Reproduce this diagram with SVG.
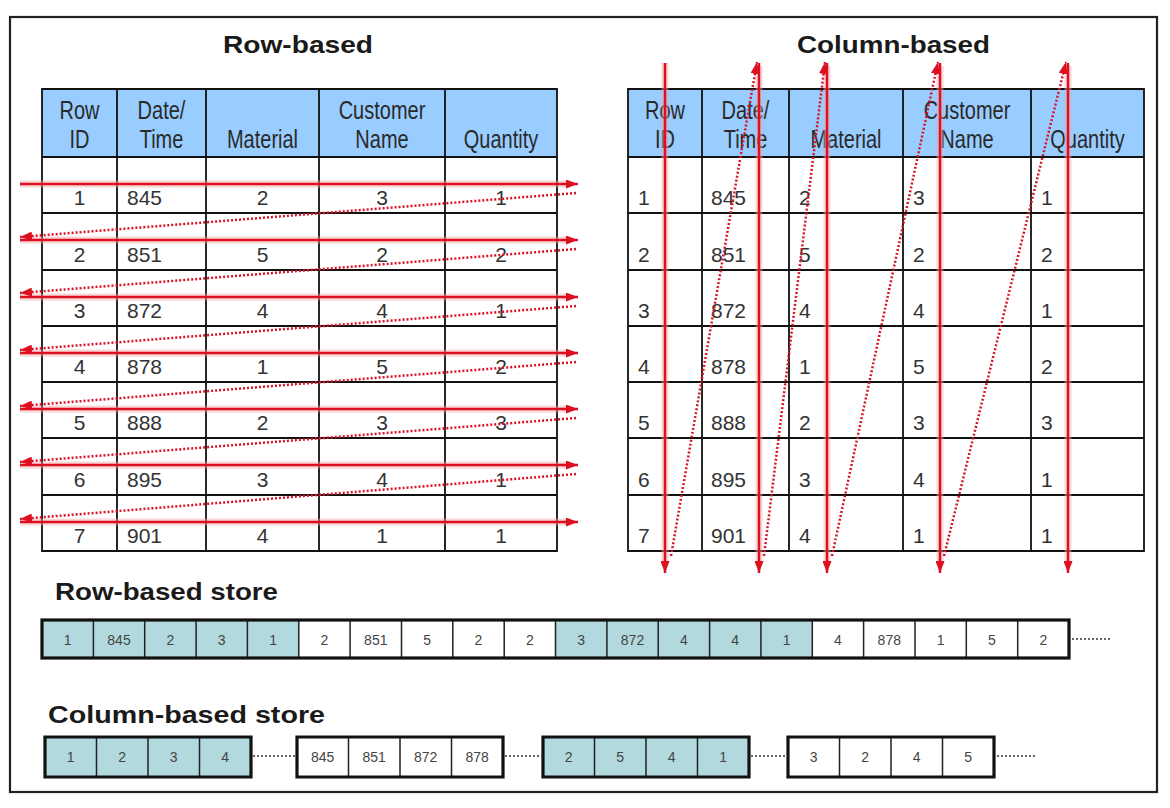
<svg xmlns="http://www.w3.org/2000/svg" width="1170" height="808" viewBox="0 0 1170 808">
<style>
.title{font-family:"Liberation Sans",Arial,sans-serif;font-weight:bold;font-size:24.5px;fill:#1a1a1a}
.hdr{font-family:"Liberation Sans",Arial,sans-serif;font-size:20px;fill:#2a2a2a;text-anchor:middle}
.cell{font-family:"Liberation Sans",Arial,sans-serif;font-size:21px;fill:#333}
.mid{text-anchor:middle}
.st{font-family:"Liberation Sans",Arial,sans-serif;font-size:14px;fill:#444;text-anchor:middle}
.grid{stroke:#111;stroke-width:1.8;fill:none}
.thick{stroke:#111;stroke-width:3.2;fill:none}
.teal{fill:#b2dade}
.hfill{fill:#99ccff}
.arrow{stroke:#dd1020;stroke-width:2.5;fill:none}
.dot{stroke:#d8142a;stroke-width:2.5;stroke-dasharray:2 2;fill:none}
.halo{stroke:#f5a3ab;stroke-width:7;opacity:.45;fill:none}
.sdot{stroke:#333;stroke-width:1.6;stroke-dasharray:2 2;fill:none}
</style>
<defs>
<marker id="ah" markerUnits="userSpaceOnUse" markerWidth="12" markerHeight="9" refX="12" refY="4.5" orient="auto">
<path d="M0,0 L12,4.5 L0,9 z" fill="#dd1020"/>
</marker>
</defs>
<rect x="0" y="0" width="1170" height="808" fill="#fff"/>
<rect id="frame" x="10" y="17" width="1147" height="775" fill="none" stroke="#222" stroke-width="2.2"/>

<g id="title-row"><text class="title" x="298" y="53" text-anchor="middle" textLength="150" lengthAdjust="spacingAndGlyphs">Row-based</text></g>
<g id="title-col"><text class="title" x="893.5" y="53" text-anchor="middle" textLength="193" lengthAdjust="spacingAndGlyphs">Column-based</text></g>

<g id="row-table">
<rect class="hfill" x="42" y="89" width="515" height="68"/>
<rect x="42" y="157" width="515" height="394" fill="#fff"/>
<path class="grid" d="M42,89H557V551H42Z M117,89V551 M206,89V551 M319,89V551 M445,89V551 M42,157H557 M42,213H557 M42,270H557 M42,326H557 M42,382H557 M42,438H557 M42,495H557"/>
<text class="hdr" transform="translate(79.5 119) scale(1 1.25)">Row</text>
<text class="hdr" transform="translate(79.5 148) scale(1 1.25)">ID</text>
<text class="hdr" transform="translate(161.5 119) scale(1 1.25)">Date/</text>
<text class="hdr" transform="translate(161.5 148) scale(1 1.25)">Time</text>
<text class="hdr" transform="translate(262.5 148) scale(1 1.25)">Material</text>
<text class="hdr" transform="translate(382 119) scale(1 1.25)">Customer</text>
<text class="hdr" transform="translate(382 148) scale(1 1.25)">Name</text>
<text class="hdr" transform="translate(501 148) scale(1 1.25)">Quantity</text>
<g class="cell">
<text class="mid" x="79.5" y="205">1</text><text x="127" y="205">845</text><text class="mid" x="262.5" y="205">2</text><text class="mid" x="382" y="205">3</text><text class="mid" x="501" y="205">1</text>
<text class="mid" x="79.5" y="262">2</text><text x="127" y="262">851</text><text class="mid" x="262.5" y="262">5</text><text class="mid" x="382" y="262">2</text><text class="mid" x="501" y="262">2</text>
<text class="mid" x="79.5" y="318">3</text><text x="127" y="318">872</text><text class="mid" x="262.5" y="318">4</text><text class="mid" x="382" y="318">4</text><text class="mid" x="501" y="318">1</text>
<text class="mid" x="79.5" y="374">4</text><text x="127" y="374">878</text><text class="mid" x="262.5" y="374">1</text><text class="mid" x="382" y="374">5</text><text class="mid" x="501" y="374">2</text>
<text class="mid" x="79.5" y="430">5</text><text x="127" y="430">888</text><text class="mid" x="262.5" y="430">2</text><text class="mid" x="382" y="430">3</text><text class="mid" x="501" y="430">3</text>
<text class="mid" x="79.5" y="487">6</text><text x="127" y="487">895</text><text class="mid" x="262.5" y="487">3</text><text class="mid" x="382" y="487">4</text><text class="mid" x="501" y="487">1</text>
<text class="mid" x="79.5" y="543">7</text><text x="127" y="543">901</text><text class="mid" x="262.5" y="543">4</text><text class="mid" x="382" y="543">1</text><text class="mid" x="501" y="543">1</text>
</g>
</g>

<g id="col-table">
<rect class="hfill" x="628" y="89" width="516" height="68"/>
<rect x="628" y="157" width="516" height="394" fill="#fff"/>
<path class="grid" d="M628,89H1144V551H628Z M702,89V551 M789,89V551 M903,89V551 M1031,89V551 M628,157H1144 M628,213H1144 M628,270H1144 M628,326H1144 M628,382H1144 M628,438H1144 M628,495H1144"/>
<text class="hdr" transform="translate(665 119) scale(1 1.25)">Row</text>
<text class="hdr" transform="translate(665 148) scale(1 1.25)">ID</text>
<text class="hdr" transform="translate(745.5 119) scale(1 1.25)">Date/</text>
<text class="hdr" transform="translate(745.5 148) scale(1 1.25)">Time</text>
<text class="hdr" transform="translate(846 148) scale(1 1.25)">Material</text>
<text class="hdr" transform="translate(967 119) scale(1 1.25)">Customer</text>
<text class="hdr" transform="translate(967 148) scale(1 1.25)">Name</text>
<text class="hdr" transform="translate(1087.5 148) scale(1 1.25)">Quantity</text>
<g class="cell">
<text x="638" y="205">1</text><text x="711" y="205">845</text><text x="799" y="205">2</text><text x="913" y="205">3</text><text x="1041" y="205">1</text>
<text x="638" y="262">2</text><text x="711" y="262">851</text><text x="799" y="262">5</text><text x="913" y="262">2</text><text x="1041" y="262">2</text>
<text x="638" y="318">3</text><text x="711" y="318">872</text><text x="799" y="318">4</text><text x="913" y="318">4</text><text x="1041" y="318">1</text>
<text x="638" y="374">4</text><text x="711" y="374">878</text><text x="799" y="374">1</text><text x="913" y="374">5</text><text x="1041" y="374">2</text>
<text x="638" y="430">5</text><text x="711" y="430">888</text><text x="799" y="430">2</text><text x="913" y="430">3</text><text x="1041" y="430">3</text>
<text x="638" y="487">6</text><text x="711" y="487">895</text><text x="799" y="487">3</text><text x="913" y="487">4</text><text x="1041" y="487">1</text>
<text x="638" y="543">7</text><text x="711" y="543">901</text><text x="799" y="543">4</text><text x="913" y="543">1</text><text x="1041" y="543">1</text>
</g>
</g>

<g id="connectors">
<g id="row-scan">
<path class="halo" d="M20,184H570 M20,240H570 M20,297H570 M20,353H570 M20,409H570 M20,465H570 M20,522H570"/>
<line class="arrow" x1="20" y1="184" x2="578" y2="184" marker-end="url(#ah)"/>
<line class="arrow" x1="20" y1="240" x2="578" y2="240" marker-end="url(#ah)"/>
<line class="arrow" x1="20" y1="297" x2="578" y2="297" marker-end="url(#ah)"/>
<line class="arrow" x1="20" y1="353" x2="578" y2="353" marker-end="url(#ah)"/>
<line class="arrow" x1="20" y1="409" x2="578" y2="409" marker-end="url(#ah)"/>
<line class="arrow" x1="20" y1="465" x2="578" y2="465" marker-end="url(#ah)"/>
<line class="arrow" x1="20" y1="522" x2="578" y2="522" marker-end="url(#ah)"/>
<line class="dot" x1="576" y1="193" x2="20" y2="237" marker-end="url(#ah)"/>
<line class="dot" x1="576" y1="249" x2="20" y2="293" marker-end="url(#ah)"/>
<line class="dot" x1="576" y1="306" x2="20" y2="350" marker-end="url(#ah)"/>
<line class="dot" x1="576" y1="362" x2="20" y2="406" marker-end="url(#ah)"/>
<line class="dot" x1="576" y1="418" x2="20" y2="462" marker-end="url(#ah)"/>
<line class="dot" x1="576" y1="474" x2="20" y2="519" marker-end="url(#ah)"/>
</g>
<g id="col-scan">
<path class="halo" d="M665,63V566 M759,66V566 M827,66V566 M940,66V566 M1068,66V566"/>
<line class="arrow" x1="665" y1="63" x2="665" y2="573" marker-end="url(#ah)"/>
<line class="arrow" x1="759" y1="63" x2="759" y2="573" marker-end="url(#ah)"/>
<line class="arrow" x1="827" y1="63" x2="827" y2="573" marker-end="url(#ah)"/>
<line class="arrow" x1="940" y1="63" x2="940" y2="573" marker-end="url(#ah)"/>
<line class="arrow" x1="1068" y1="63" x2="1068" y2="573" marker-end="url(#ah)"/>
<line class="dot" x1="671" y1="556" x2="757" y2="62" marker-end="url(#ah)"/>
<line class="dot" x1="764" y1="556" x2="825" y2="62" marker-end="url(#ah)"/>
<line class="dot" x1="832" y1="556" x2="938" y2="62" marker-end="url(#ah)"/>
<line class="dot" x1="944" y1="556" x2="1066" y2="62" marker-end="url(#ah)"/>
</g>
</g>

<g id="row-store">
<text class="title" x="55" y="600" textLength="223" lengthAdjust="spacingAndGlyphs">Row-based store</text>
<rect class="teal" x="42" y="620" width="256.75" height="38"/>
<rect x="298.75" y="620" width="256.75" height="38" fill="#fff"/>
<rect class="teal" x="555.5" y="620" width="256.75" height="38"/>
<rect x="812.25" y="620" width="256.75" height="38" fill="#fff"/>
<path stroke="#222" stroke-width="1.5" d="M93.4,620V658 M144.7,620V658 M196.1,620V658 M247.4,620V658 M298.8,620V658 M350.1,620V658 M401.5,620V658 M452.8,620V658 M504.2,620V658 M555.5,620V658 M606.9,620V658 M658.2,620V658 M709.6,620V658 M760.9,620V658 M812.3,620V658 M863.6,620V658 M915,620V658 M966.3,620V658 M1017.7,620V658"/>
<rect class="thick" x="42" y="620" width="1027" height="38"/>
<g class="st">
<text x="67.7" y="645">1</text><text x="119" y="645">845</text><text x="170.4" y="645">2</text><text x="221.7" y="645">3</text><text x="273.1" y="645">1</text>
<text x="324.4" y="645">2</text><text x="375.8" y="645">851</text><text x="427.1" y="645">5</text><text x="478.5" y="645">2</text><text x="529.8" y="645">2</text>
<text x="581.2" y="645">3</text><text x="632.5" y="645">872</text><text x="683.9" y="645">4</text><text x="735.2" y="645">4</text><text x="786.6" y="645">1</text>
<text x="837.9" y="645">4</text><text x="889.3" y="645">878</text><text x="940.6" y="645">1</text><text x="992" y="645">5</text><text x="1043.3" y="645">2</text>
</g>
<line class="sdot" x1="1072" y1="639" x2="1110" y2="639"/>
</g>

<g id="col-store">
<text class="title" x="48" y="723" textLength="277" lengthAdjust="spacingAndGlyphs">Column-based store</text>
<rect class="teal" x="45" y="737" width="206" height="40"/>
<rect x="297" y="737" width="206" height="40" fill="#fff"/>
<rect class="teal" x="543" y="737" width="206" height="40"/>
<rect x="788" y="737" width="206" height="40" fill="#fff"/>
<path stroke="#222" stroke-width="1.5" d="M96.5,737V777 M148,737V777 M199.5,737V777 M348.5,737V777 M400,737V777 M451.5,737V777 M594.5,737V777 M646,737V777 M697.5,737V777 M839.5,737V777 M891,737V777 M942.5,737V777"/>
<path class="thick" d="M45,737h206v40h-206z M297,737h206v40h-206z M543,737h206v40h-206z M788,737h206v40h-206z"/>
<g class="st">
<text x="70.7" y="762">1</text><text x="122.2" y="762">2</text><text x="173.7" y="762">3</text><text x="225.2" y="762">4</text>
<text x="322.7" y="762">845</text><text x="374.2" y="762">851</text><text x="425.7" y="762">872</text><text x="477.2" y="762">878</text>
<text x="568.7" y="762">2</text><text x="620.2" y="762">5</text><text x="671.7" y="762">4</text><text x="723.2" y="762">1</text>
<text x="813.7" y="762">3</text><text x="865.2" y="762">2</text><text x="916.7" y="762">4</text><text x="968.2" y="762">5</text>
</g>
<path class="sdot" d="M253,756H297 M505,756H543 M751,756H788 M997,756H1035"/>
</g>
</svg>
